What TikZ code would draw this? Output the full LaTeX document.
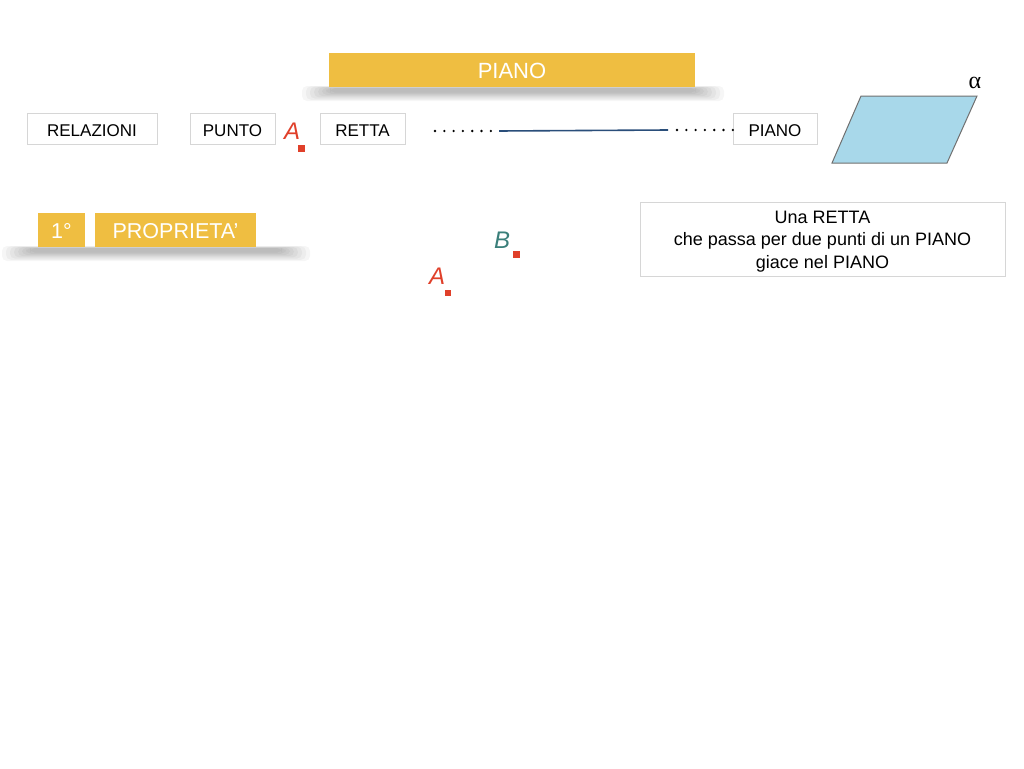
\documentclass[tikz,border=0pt]{standalone}
\usepackage{fontspec}
\setmainfont{Liberation Sans}
\newfontfamily\grkfont{Liberation Serif}
\definecolor{gold}{HTML}{EFBE41}
\definecolor{redpt}{HTML}{E0402A}
\definecolor{tealpt}{HTML}{3A7F7A}
\definecolor{boxline}{HTML}{D6D6D6}
\definecolor{planefill}{HTML}{A8D8EA}
\definecolor{planeline}{HTML}{707070}
\definecolor{linecol}{HTML}{2A4E7A}
\begin{document}
\begin{tikzpicture}[x=1pt,y=-1pt,
  wbox/.style={draw=boxline, line width=0.8pt, fill=white, inner sep=0pt, font=\fontsize{17}{19}\selectfont, text=black, text height=15pt, text depth=0pt},
  goldbox/.style={fill=gold, inner sep=0pt, text=white, text depth=0pt},
  ptlabel/.style={font=\fontsize{24}{26}\selectfont\itshape, inner sep=0pt},
  ptsq/.style={fill=redpt, minimum size=6.5pt, inner sep=0pt},
  dotrow/.style={line width=2.6pt, dash pattern=on 0pt off 9.3pt, line cap=round}
]
\useasboundingbox (0,0) rectangle (1024,768);
\fill[white] (0,0) rectangle (1024,768);

% soft shadows
\foreach \k in {0,...,7}{
  \fill[black, opacity=0.035, rounded corners=5pt] (302+\k*4,86+\k*0.3) rectangle (724-\k*4,101-\k*1.2);
  \fill[black, opacity=0.035, rounded corners=5pt] (2+\k*4,246+\k*0.3) rectangle (310-\k*4,261-\k*1.2);
}

% title banner
\node[goldbox, minimum width=366pt, minimum height=34pt, font=\fontsize{22}{24}\selectfont, text height=17pt] (title) at (512,70) {PIANO};

% relation boxes
\node[wbox, minimum width=130pt, minimum height=31pt] (rel) at (92,128.5) {RELAZIONI};
\node[wbox, minimum width=85pt, minimum height=31pt] (punto) at (232.5,128.5) {PUNTO};
\node[wbox, minimum width=85pt, minimum height=31pt] (retta) at (362.5,128.5) {RETTA};
\node[wbox, minimum width=84pt, minimum height=31pt] (piano) at (775,128.5) {PIANO};

% point A near PUNTO
\node[ptlabel, text=redpt] (Alab1) at (292,131) {A};
\node[ptsq] (Asq1) at (301.5,148.5) {};

% dotted and solid line
\coordinate (d1s) at (435,131);
\coordinate (d1e) at (492,131);
\coordinate (ls) at (499,131);
\coordinate (le) at (668,130);
\coordinate (d2s) at (677,130);
\coordinate (d2e) at (733,130);
\draw[dotrow] (d1s) -- (d1e);
\draw[linecol, line width=1.6pt] (ls) -- (le);
\draw[dotrow] (d2s) -- (d2e);

% plane
\coordinate (p1) at (861,96);
\coordinate (p2) at (977,96);
\coordinate (p3) at (947,163);
\coordinate (p4) at (832,163);
\draw[planeline, fill=planefill, line width=1pt] (p1) -- (p2) -- (p3) -- (p4) -- cycle;
\node[font=\grkfont\fontsize{24}{26}\selectfont, inner sep=0pt] (alpha) at (975,83) {α};

% property boxes
\node[goldbox, minimum width=47pt, minimum height=34pt, font=\fontsize{21.5}{23}\selectfont, text height=17.5pt] (num) at (61.5,230) {1°};
\node[goldbox, minimum width=161pt, minimum height=34pt, font=\fontsize{21.5}{23}\selectfont, text height=17.5pt] (prop) at (175.5,230) {PROPRIETA’};

% points A and B
\node[ptlabel, text=tealpt] (Blab) at (502,240) {B};
\node[ptsq] (Bsq) at (516.5,254.5) {};
\node[ptlabel, text=redpt] (Alab2) at (437,276) {A};
\node[ptsq] (Asq2) at (448,293) {};

% statement box
\node[draw=boxline, line width=0.8pt, fill=white, minimum width=365pt, minimum height=74pt] (stmtbox) at (822.5,239) {};
\node[inner sep=0pt, align=center, font=\fontsize{18}{22.5}\selectfont] (stmt) at (822.5,241.5)
  {Una RETTA\\che passa per due punti di un PIANO\\giace nel PIANO};
\end{tikzpicture}
\end{document}
